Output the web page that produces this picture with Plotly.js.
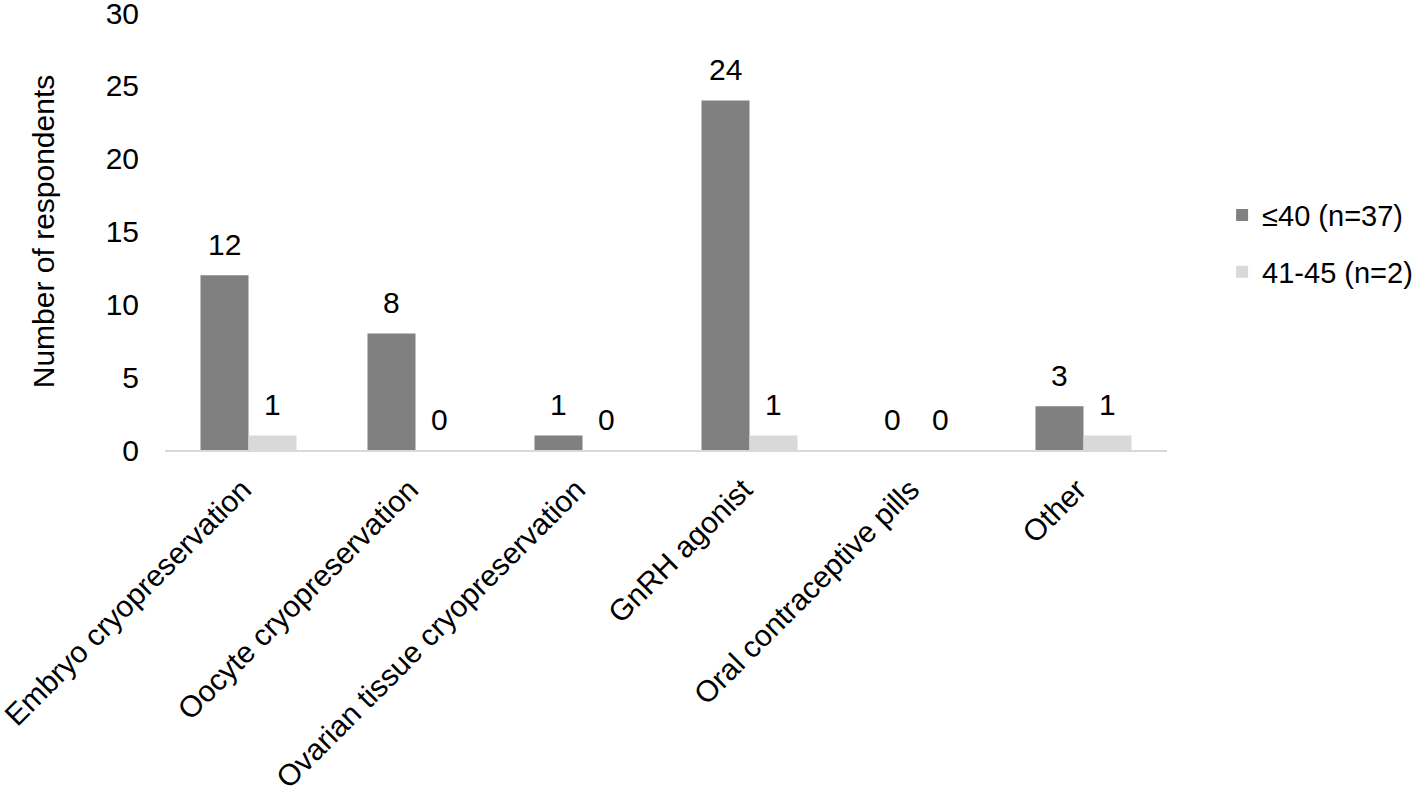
<!DOCTYPE html>
<html>
<head>
<meta charset="utf-8">
<script src="https://cdn.plot.ly/plotly-3.0.1.min.js"></script>
<style>html,body{margin:0;padding:0;background:#fff;}#chart{width:1416px;height:789px;}</style>
</head>
<body>
<div id="chart"></div>
<script>
const categories = ["Embryo cryopreservation", "Oocyte cryopreservation", "Ovarian tissue cryopreservation", "GnRH agonist", "Oral contraceptive pills", "Other"];
const seriesNames = ["≤40 (n=37)", "41-45 (n=2)"];
const under40 = [12, 8, 1, 24, 0, 3];
const age41to45 = [1, 0, 0, 1, 0, 1];
const yTicks = [0, 5, 10, 15, 20, 25, 30];

const font = {family: "Liberation Sans, Arial, sans-serif", size: 30, color: "#000"};
const legendFont = {family: "Liberation Sans, Arial, sans-serif", size: 29, color: "#000"};

const traces = [
  {type: "bar", name: seriesNames[0], x: categories, y: under40, marker: {color: "#808080"}, cliponaxis: false, legendgroup: "a"},
  {type: "bar", name: seriesNames[1], x: categories, y: age41to45, marker: {color: "#d9d9d9"}, cliponaxis: false, legendgroup: "b"}
];

// value labels placed above each bar via the category axis + value axis
const series = [under40, age41to45];
const offsets = [-24, 24];
const annotations = [];
series.forEach((vals, si) => {
  vals.forEach((v, i) => {
    annotations.push({x: categories[i], y: v, xref: "x", yref: "y", text: String(v), showarrow: false,
      xshift: offsets[si], yshift: 31, yanchor: "middle", xanchor: "center", font: font});
  });
});

const layout = {
  width: 1416, height: 789,
  margin: {l: 165, r: 249, t: 13, b: 339, autoexpand: false},
  paper_bgcolor: "#fff", plot_bgcolor: "#fff",
  font: font,
  barmode: "group", bargap: 0.425, bargroupgap: 0,
  showlegend: true,
  legend: {x: 1.055, xanchor: "left", y: 0.472, yanchor: "middle", font: legendFont, traceorder: "grouped", tracegroupgap: 16},
  annotations: annotations,
  xaxis: {type: "category", tickangle: -45, showline: true, linecolor: "#d9d9d9", linewidth: 2, ticks: "", showgrid: false, tickfont: font, automargin: false, zeroline: false,
    ticklabelstandoff: 8, ticklabelshift: -6},
  yaxis: {range: [0, 30], tickvals: yTicks, ticktext: yTicks.map(String), showgrid: false, zeroline: false, showline: false, ticks: "", ticklabelstandoff: 25, tickfont: font, automargin: false,
    ticklabeloverflow: "allow",
    title: {text: "Number of respondents", font: font, standoff: 42}}
};

Plotly.newPlot("chart", traces, layout, {displayModeBar: false, staticPlot: true});
</script>
</body>
</html>
